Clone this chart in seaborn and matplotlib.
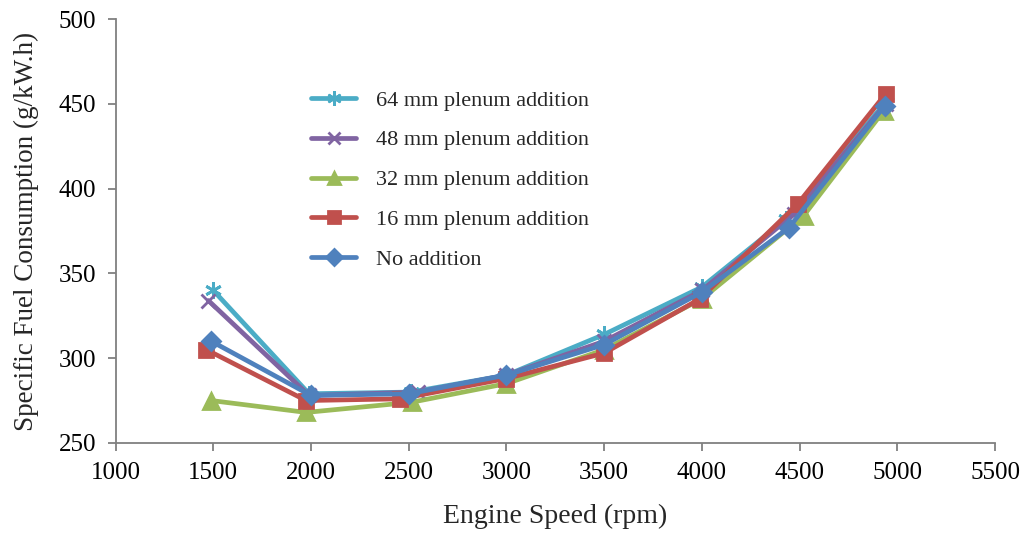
import numpy as np
import pandas as pd
import matplotlib
matplotlib.use("Agg")
import matplotlib.pyplot as plt
import seaborn as sns

series_names = ["64 mm plenum addition", "48 mm plenum addition",
                "32 mm plenum addition", "16 mm plenum addition", "No addition"]
speed_64 = [1500, 1990, 2510, 3000, 3500, 4000, 4430, 4940]
sfc_64 = [340, 279, 280, 290, 314, 342, 382, 451]
speed_48 = [1475, 1990, 2545, 3000, 3500, 4000, 4470, 4940]
sfc_48 = [334, 278, 280, 290, 310, 340, 385, 450]
speed_32 = [1490, 1975, 2515, 3000, 3500, 4000, 4520, 4930]
sfc_32 = [275, 268, 274, 285, 305, 335, 384, 446]
speed_16 = [1465, 1975, 2455, 3000, 3500, 3990, 4490, 4940]
sfc_16 = [305, 275, 276, 288, 303, 335, 391, 456]
speed_0 = [1490, 2000, 2500, 3000, 3500, 4000, 4445, 4935]
sfc_0 = [310, 278, 279, 290, 308, 339, 377, 449]

colors = ["#4BACC6", "#8064A2", "#9BBB59", "#C0504D", "#4F81BD"]
markers = [(6, 2, 0), "x", "^", "s", "D"]
msizes = [12, 10, 11, 10, 9]

frames = []
for name, xs, ys in zip(series_names,
                        [speed_64, speed_48, speed_32, speed_16, speed_0],
                        [sfc_64, sfc_48, sfc_32, sfc_16, sfc_0]):
    frames.append(pd.DataFrame({"speed": xs, "sfc": ys, "series": name}))
df = pd.concat(frames, ignore_index=True)

sns.set_style("ticks")
plt.rcParams["font.family"] = ["Liberation Serif", "DejaVu Serif"]

fig = plt.figure(figsize=(10.27, 5.33), dpi=100)
ax = fig.add_axes([0.1125, 0.169, 0.8565, 0.795])

for name, c, m, ms in zip(series_names, colors, markers, msizes):
    sub = df[df["series"] == name]
    sns.lineplot(data=sub, x="speed", y="sfc", ax=ax, color=c, marker=m,
                 markersize=ms, markeredgecolor=c, markeredgewidth=2.0,
                 linewidth=3.4, sort=False, label=name, estimator=None)

ax.set_xlim(1000, 5500)
ax.set_ylim(250, 500)
ax.set_xticks(np.arange(1000, 5501, 500))
ax.set_yticks(np.arange(250, 501, 50))
for s in ["top", "right"]:
    ax.spines[s].set_visible(False)
for s in ["left", "bottom"]:
    ax.spines[s].set_color("#808080")
    ax.spines[s].set_linewidth(1.3)
ax.tick_params(axis="both", colors="#808080", labelcolor="black",
               labelsize=18, length=6, width=1.3, direction="out", pad=8)
ax.set_xlabel("Engine Speed (rpm)", fontsize=20, labelpad=14)
ax.set_ylabel("Specific Fuel Consumption (g/kW.h)", fontsize=19.5, labelpad=14)

ax.legend(loc="upper left", bbox_to_anchor=(0.2, 0.88), frameon=False,
          fontsize=16, handlelength=2.0, labelspacing=0.87, handletextpad=0.9,
          markerscale=0.85)

fig.savefig("out.png", dpi=100)
